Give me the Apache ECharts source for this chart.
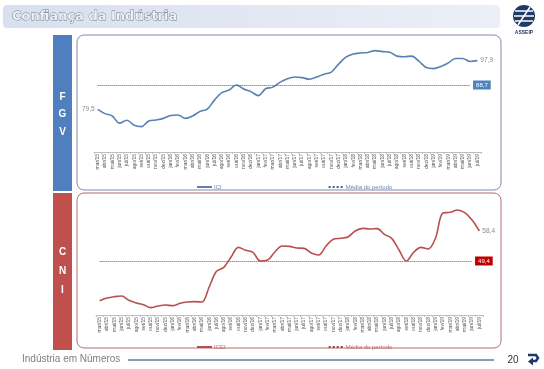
<!DOCTYPE html>
<html><head><meta charset="utf-8">
<script src="https://cdn.jsdelivr.net/npm/echarts@6/dist/echarts.min.js"></script>
<style>html,body{margin:0;padding:0;background:#fff}#c{width:544px;height:369px}</style>
</head><body><div id="c"></div>
<script>
const MONTHS = ['mar/15','abr/15','mai/15','jun/15','jul/15','ago/15','set/15','out/15','nov/15','dez/15',
 'jan/16','fev/16','mar/16','abr/16','mai/16','jun/16','jul/16','ago/16','set/16','out/16','nov/16','dez/16',
 'jan/17','fev/17','mar/17','abr/17','mai/17','jun/17','jul/17','ago/17','set/17','out/17','nov/17','dez/17',
 'jan/18','fev/18','mar/18','abr/18','mai/18','jun/18','jul/18','ago/18','set/18','out/18','nov/18','dez/18',
 'jan/19','fev/19','mar/19','abr/19','mai/19','jun/19','jul/19'];
const FGV_ICI = [79.5,77.9,77.0,74.3,75.4,73.5,73.0,75.1,75.5,76.1,77.2,77.4,76.1,77.0,78.7,79.6,83.0,85.8,86.8,88.7,
 87.2,86.2,84.7,87.3,87.9,89.8,91.1,91.7,91.5,90.9,91.7,92.8,93.6,96.6,99.2,100.4,100.8,101.0,101.7,101.3,
 101.1,99.6,99.4,99.6,97.7,95.3,94.9,95.7,97.0,98.7,98.7,97.6,97.9];
const CNI_ICEI = [37.5,38.3,38.7,38.9,37.6,36.8,36.3,35.4,35.9,36.2,36.0,36.7,37.1,37.2,37.1,41.6,46.3,47.5,50.6,53.5,
 52.6,52.0,49.4,49.7,52.1,53.9,53.8,53.3,53.2,51.8,51.2,53.9,55.9,56.2,56.6,58.4,59.2,59.0,59.1,57.4,
 56.2,52.7,49.4,52.0,53.5,53.0,56.3,63.8,64.0,64.7,63.9,61.7,58.4];
const FGV_MEAN = 88.7;
const CNI_MEAN = 49.4;
const MEAN_END = 'jun/19';

const fmt = v => v.toFixed(1).replace('.', ',');
const BLUE = '#5b80b4', RED = '#b8504e';

function withEndLabels(arr, showStart) {
  return arr.map((v, i) => {
    if (i === arr.length - 1) return {value: v, label: {show: true, position: 'right', distance: 3, formatter: fmt(v), fontSize: 6.5, color: '#8c8c8c'}};
    if (i === 0 && showStart) return {value: v, label: {show: true, position: 'left', distance: 3, formatter: fmt(v), fontSize: 6.5, color: '#8c8c8c'}};
    return v;
  });
}

const axisX = (gi) => ({
  type: 'category', gridIndex: gi, data: MONTHS, boundaryGap: true,
  axisLine: {lineStyle: {color: '#bfbfbf', width: 1}},
  axisTick: {show: true, length: 2, lineStyle: {color: '#bfbfbf'}},
  axisLabel: {interval: 0, rotate: 90, fontSize: 5, color: '#595959', margin: 2, fontFamily: 'Liberation Sans'}
});

const chart = echarts.init(document.getElementById('c'), null, {renderer: 'canvas'});
chart.setOption({
  animation: false,
  grid: [
    {left: 94, right: 63, top: 40, bottom: 217},
    {left: 96, right: 61, top: 200, bottom: 54}
  ],
  xAxis: [axisX(0), axisX(1)],
  yAxis: [
    {type: 'value', gridIndex: 0, min: 63.4, max: 105.7, show: false, splitLine: {show: false}},
    {type: 'value', gridIndex: 1, min: 33.2, max: 67.7, show: false, splitLine: {show: false}}
  ],
  legend: [
    {data: ['ICI', 'Média do período'], left: 191, top: 179, itemWidth: 15, itemHeight: 6, itemGap: 106,
     itemStyle: {opacity: 0},
     textStyle: {fontSize: 6, color: '#6f86ad', padding: [0,0,0,-3]}, selectedMode: false},
    {data: ['ICEI', 'Média do período (CNI)'], left: 191, top: 339, itemWidth: 15, itemHeight: 6, itemGap: 102,
     itemStyle: {opacity: 0},
     formatter: n => n.replace(' (CNI)', ''),
     textStyle: {fontSize: 6, color: '#c06a6a', padding: [0,0,0,-3]}, selectedMode: false}
  ],
  series: [
    {name: 'ICI', type: 'line', xAxisIndex: 0, yAxisIndex: 0, data: withEndLabels(FGV_ICI, true),
     symbol: 'circle', symbolSize: 0.01, showSymbol: true, smooth: 0.35,
     lineStyle: {color: BLUE, width: 1.6}, itemStyle: {color: BLUE}},
    {name: 'Média do período', type: 'line', xAxisIndex: 0, yAxisIndex: 0, data: [],
     symbol: 'none', lineStyle: {color: '#3e5c8c', width: 1, type: 'dotted'}, itemStyle: {color: '#3e5c8c'},
     markLine: {silent: true, symbol: 'none', lineStyle: {color: '#3e5c8c', width: 1, type: 'dotted'},
       label: {show: true, position: 'end', distance: 3, formatter: fmt(FGV_MEAN), color: '#fff', fontSize: 6,
               backgroundColor: '#4f81bd', padding: [2, 3, 1, 3]},
       data: [[{coord: [MONTHS[0], FGV_MEAN]}, {coord: [MEAN_END, FGV_MEAN]}]]}},
    {name: 'ICEI', type: 'line', xAxisIndex: 1, yAxisIndex: 1, data: withEndLabels(CNI_ICEI, false),
     symbol: 'circle', symbolSize: 0.01, showSymbol: true, smooth: 0.35,
     lineStyle: {color: RED, width: 1.6}, itemStyle: {color: RED}},
    {name: 'Média do período (CNI)', type: 'line', xAxisIndex: 1, yAxisIndex: 1, data: [],
     symbol: 'none', lineStyle: {color: '#a03c3c', width: 1, type: 'dotted'}, itemStyle: {color: '#a03c3c'},
     markLine: {silent: true, symbol: 'none', lineStyle: {color: '#a03c3c', width: 1, type: 'dotted'},
       label: {show: true, position: 'end', distance: 3, formatter: fmt(CNI_MEAN), color: '#fff', fontSize: 6,
               backgroundColor: '#c00000', padding: [2, 3, 1, 3]},
       data: [[{coord: [MONTHS[0], CNI_MEAN]}, {coord: [MEAN_END, CNI_MEAN]}]]}}
  ],
  graphic: [
    {type: 'rect', z: -10, shape: {x: 3, y: 5, width: 497, height: 23, r: 4},
     style: {fill: new echarts.graphic.LinearGradient(0, 0, 1, 0, [{offset: 0, color: '#d8dfee'}, {offset: 1, color: '#eceff7'}])}},
    {type: 'text', z: -9, x: 12, y: 17, style: {text: 'Confiança da Indústria', font: 'bold 13px "DejaVu Sans"',
      fill: '#eef0f6', stroke: '#6a7386', lineWidth: 0.8, verticalAlign: 'middle'}},
    {type: 'circle', z: -9, shape: {cx: 524, cy: 16, r: 11}, style: {fill: '#1f3a66'}},
    {type: 'line', z: -8, shape: {x1: 515, y1: 11, x2: 533, y2: 11}, style: {stroke: '#fff', lineWidth: 1.5}},
    {type: 'line', z: -8, shape: {x1: 514, y1: 16, x2: 534, y2: 16}, style: {stroke: '#fff', lineWidth: 1.5}},
    {type: 'line', z: -8, shape: {x1: 515, y1: 21, x2: 533, y2: 21}, style: {stroke: '#fff', lineWidth: 1.5}},
    {type: 'line', z: -8, shape: {x1: 518, y1: 25, x2: 530, y2: 7}, style: {stroke: '#fff', lineWidth: 1.5}},
    {type: 'text', z: -9, x: 524, y: 33, style: {text: 'ASSEIP', font: 'bold 5px sans-serif', fill: '#1f3a66', align: 'center', verticalAlign: 'middle'}},
    {type: 'rect', z: -10, shape: {x: 53, y: 35, width: 19, height: 156}, style: {fill: '#4f7fbf'}},
    {type: 'text', z: -9, x: 62.5, y: 97, style: {text: 'F', font: 'bold 10px sans-serif', fill: '#fff', align: 'center', verticalAlign: 'middle'}},
    {type: 'text', z: -9, x: 62.5, y: 114, style: {text: 'G', font: 'bold 10px sans-serif', fill: '#fff', align: 'center', verticalAlign: 'middle'}},
    {type: 'text', z: -9, x: 62.5, y: 132, style: {text: 'V', font: 'bold 10px sans-serif', fill: '#fff', align: 'center', verticalAlign: 'middle'}},
    {type: 'rect', z: -10, shape: {x: 77, y: 35, width: 424, height: 155, r: 7}, style: {fill: 'none', stroke: '#7d8ca5', lineWidth: 1}},
    {type: 'rect', z: -10, shape: {x: 53, y: 193, width: 19, height: 157}, style: {fill: '#c0504d'}},
    {type: 'text', z: -9, x: 62.5, y: 252, style: {text: 'C', font: 'bold 10px sans-serif', fill: '#fff', align: 'center', verticalAlign: 'middle'}},
    {type: 'text', z: -9, x: 62.5, y: 271, style: {text: 'N', font: 'bold 10px sans-serif', fill: '#fff', align: 'center', verticalAlign: 'middle'}},
    {type: 'text', z: -9, x: 62.5, y: 290, style: {text: 'I', font: 'bold 10px sans-serif', fill: '#fff', align: 'center', verticalAlign: 'middle'}},
    {type: 'rect', z: -10, shape: {x: 77, y: 193, width: 424, height: 155, r: 7}, style: {fill: 'none', stroke: '#b36e6e', lineWidth: 1}},
    {type: 'text', z: -9, x: 22, y: 359, style: {text: 'Indústria em Números', font: '10px sans-serif', fill: '#7f7f7f', verticalAlign: 'middle'}},
    {type: 'line', z: -9, shape: {x1: 128, y1: 360, x2: 494, y2: 360}, style: {stroke: '#1f3a66', lineWidth: 1}},
    {type: 'text', z: -9, x: 513, y: 360, style: {text: '20', font: '10px sans-serif', fill: '#333', align: 'center', verticalAlign: 'middle'}},
    {type: 'polyline', z: -9, shape: {points: [[528, 355], [536, 355], [538, 358], [536, 361], [532, 361]]}, style: {fill: 'none', stroke: '#1f3a66', lineWidth: 2.5}},
    {type: 'polygon', z: -9, shape: {points: [[533, 357.5], [528, 361.5], [533, 365.5]]}, style: {fill: '#1f3a66'}}
  ]
});
</script></body></html>
